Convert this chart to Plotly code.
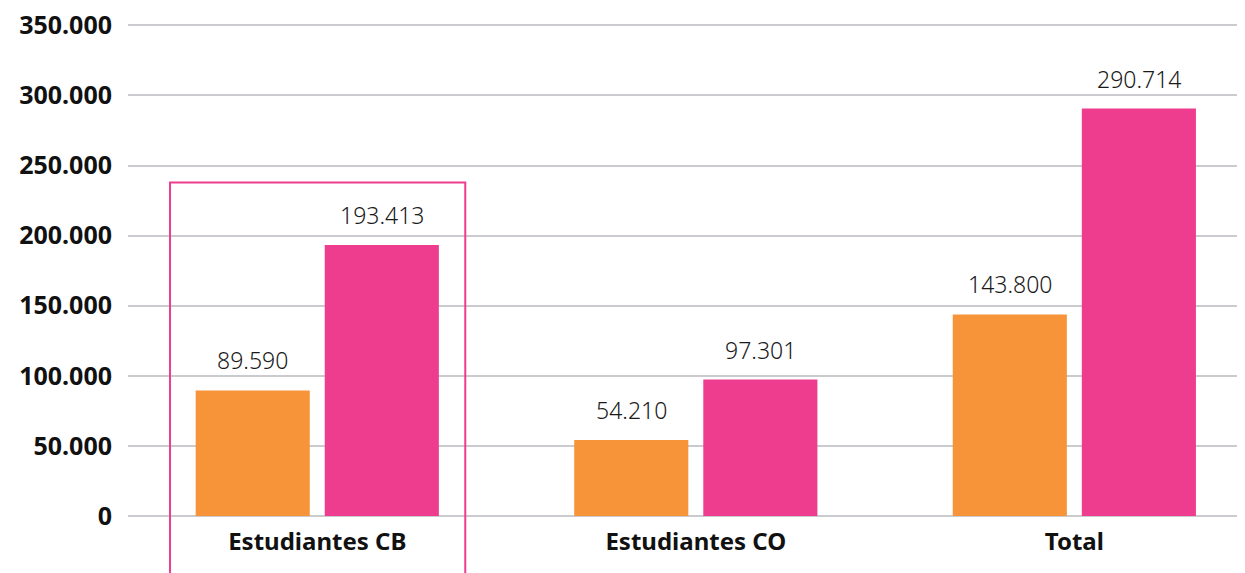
import plotly.graph_objects as go

categories = ["Estudiantes CB", "Estudiantes CO", "Total"]
serie_naranja = [89590, 54210, 143800]
serie_rosa = [193413, 97301, 290714]
tick_vals = [0, 50000, 100000, 150000, 200000, 250000, 300000, 350000]
tick_text = ["0", "50.000", "100.000", "150.000", "200.000", "250.000", "300.000", "350.000"]

ORANGE = "#F7943A"
PINK = "#EE3D8E"
FONT = "Noto Sans"


def fmt(v):
    return f"{v:,}".replace(",", ".")


fig = go.Figure()
fig.add_trace(go.Bar(
    x=categories, y=serie_naranja, name="Serie 1",
    marker=dict(color=ORANGE, line=dict(width=0)),
))
fig.add_trace(go.Bar(
    x=categories, y=serie_rosa, name="Serie 2",
    marker=dict(color=PINK, line=dict(width=0)),
))

# value labels above bars
for series, shift in ((serie_naranja, -64.5), (serie_rosa, 64.5)):
    for cat, v in zip(categories, series):
        fig.add_annotation(
            x=cat, y=v, xref="x", yref="y", text=fmt(v), showarrow=False,
            yanchor="bottom", xanchor="center", xshift=shift, yshift=12,
            font=dict(family=FONT, size=23, color="#1a1a1a", weight=300),
        )

# highlight box around first category group
fig.add_shape(
    type="rect", xref="x", yref="paper",
    x0=-0.389, x1=0.391, y0=-0.2, y1=0.678,
    line=dict(color=PINK, width=2), fillcolor="rgba(0,0,0,0)",
    layer="above",
)

fig.update_layout(
    width=1245, height=573,
    margin=dict(l=120, r=0, t=16, b=65),
    paper_bgcolor="white", plot_bgcolor="white",
    showlegend=False,
    barmode="group", bargap=0.318, bargroupgap=0.116,
    font=dict(family=FONT, color="#111111"),
)
fig.update_xaxes(
    range=[-0.5, 2.472], showgrid=False, showline=False, ticks="",
    tickfont=dict(family=FONT, size=24, color="#111111", weight="bold"),
    ticklabelstandoff=9,
)
fig.update_yaxes(
    range=[0, 351000], tickvals=tick_vals, ticktext=tick_text,
    showgrid=True, gridcolor="#C9CBCE", gridwidth=2,
    zeroline=True, zerolinecolor="#C9CBCE", zerolinewidth=2,
    showline=False, ticks="",
    tickfont=dict(family=FONT, size=25, color="#111111", weight="bold"),
    ticklabelstandoff=15, ticklabeloverflow="allow",
)

fig.write_html("out.html")
